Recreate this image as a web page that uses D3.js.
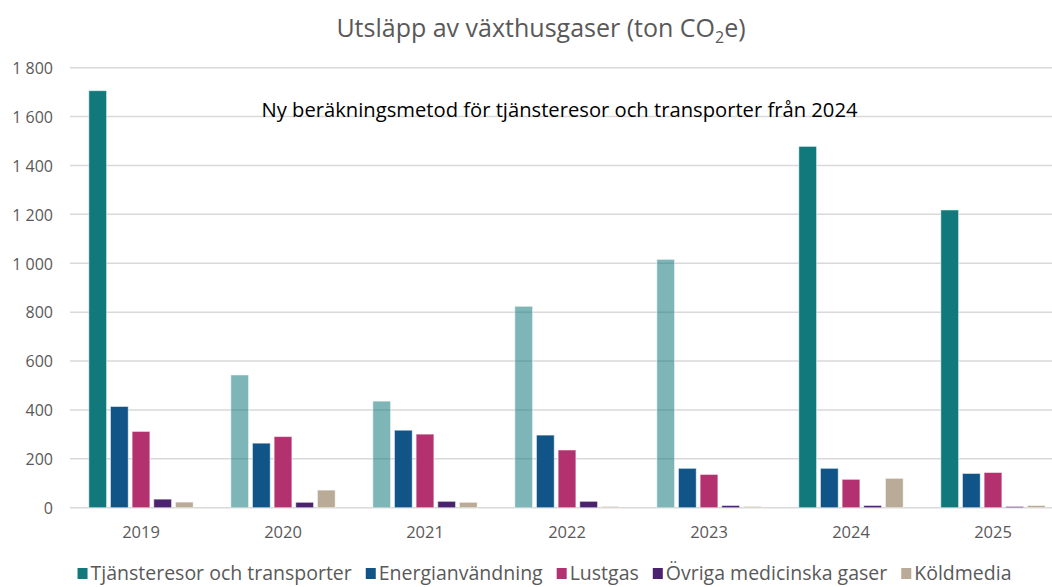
<!DOCTYPE html>
<html>
<head>
<meta charset="utf-8">
<script src="https://cdn.jsdelivr.net/npm/d3@7"></script>
<style>
  html, body { margin: 0; padding: 0; background: #fff; }
  svg { display: block; }
  text { font-family: "Open Sans", "Noto Sans", sans-serif; }
</style>
</head>
<body>
<svg id="chart" width="1052" height="587"></svg>
<script>
// ---- data ----
const years = ["2019", "2020", "2021", "2022", "2023", "2024", "2025"];
const seriesNames = ["Tjänsteresor och transporter", "Energianvändning", "Lustgas", "Övriga medicinska gaser", "Köldmedia"];
const tjanster = [1706, 543, 436, 824, 1016, 1478, 1218];
const energi   = [414, 264, 317, 297, 161, 161, 140];
const lustgas  = [312, 291, 301, 236, 136, 116, 144];
const ovriga   = [35, 22, 26, 26, 9, 9, 5];
const koldmedia = [23, 72, 22, 5, 5, 120, 9];
const yTicks = [0, 200, 400, 600, 800, 1000, 1200, 1400, 1600, 1800];
const oldMethodYears = ["2020", "2021", "2022", "2023"];
const titleMain = "Utsläpp av växthusgaser (ton CO";
const titleSub = "2";
const titleEnd = "e)";
const noteText = "Ny beräkningsmetod för tjänsteresor och transporter från 2024";

// ---- styles ----
const colors = ["#11797C", "#105488", "#B2316E", "#4A226E", "#B9AB97"];
const seriesValues = [tjanster, energi, lustgas, ovriga, koldmedia];

const svg = d3.select("#chart");
const margin = { left: 70, right: -12, top: 67.7, bottom: 79.3 };
const W = 1052, H = 587;
const plotL = margin.left, plotR = W - margin.right, plotT = margin.top, plotB = H - margin.bottom;

const y = d3.scaleLinear().domain([0, 1800]).range([plotB, plotT]);
const x0 = d3.scaleBand().domain(years).range([plotL, plotR]).paddingInner(0.265).paddingOuter(0.1325);
const x1 = d3.scaleBand().domain(seriesNames).range([0, x0.bandwidth()]).paddingInner(0.18).paddingOuter(0);

// gridlines
svg.append("g")
  .selectAll("line").data(yTicks).join("line")
  .attr("x1", plotL).attr("x2", plotR)
  .attr("y1", d => y(d)).attr("y2", d => y(d))
  .attr("stroke", "#D9D9D9").attr("stroke-width", 1.5);

// y axis labels
const yAxis = d3.axisLeft(y).tickValues(yTicks).tickSize(0).tickPadding(0)
  .tickFormat(d => d3.format(",")(d).replace(/,/g, " "));
const yg = svg.append("g").attr("transform", `translate(${plotL - 17},0)`).call(yAxis);
yg.select(".domain").remove();
yg.selectAll("text").attr("fill", "#595959").attr("font-size", 16)
  .attr("font-family", "'Open Sans', sans-serif").attr("dy", "0.36em");

// x axis labels
const xAxis = d3.axisBottom(x0).tickSize(0).tickPadding(0);
const xg = svg.append("g").attr("transform", `translate(0,${plotB + 19})`).call(xAxis);
xg.select(".domain").remove();
xg.selectAll("text").attr("fill", "#595959").attr("font-size", 16.5)
  .attr("font-family", "'Open Sans', sans-serif").attr("dy", "0.71em");

// bars
const groups = svg.append("g").selectAll("g").data(years).join("g")
  .attr("transform", d => `translate(${x0(d)},0)`);
groups.selectAll("rect")
  .data((yr, i) => seriesNames.map((s, k) => ({ yr, s, k, v: seriesValues[k][i] })))
  .join("rect")
  .attr("x", d => x1(d.s))
  .attr("width", x1.bandwidth())
  .attr("y", d => y(d.v))
  .attr("height", d => y(0) - y(d.v))
  .attr("fill", d => colors[d.k])
  .attr("fill-opacity", d => (d.k === 0 && oldMethodYears.includes(d.yr)) ? 0.54 : 1)
  .attr("stroke", "#ffffff").attr("stroke-opacity", 0.5).attr("stroke-width", 1);

// title
const title = svg.append("text").attr("x", 541).attr("y", 37)
  .attr("text-anchor", "middle").attr("fill", "#595959").attr("font-size", 25);
title.append("tspan").text(titleMain);
title.append("tspan").text(titleSub).attr("font-size", 16).attr("dy", 6);
title.append("tspan").text(titleEnd).attr("dy", -6);

// annotation
svg.append("text").attr("x", 559.5).attr("y", 117)
  .attr("text-anchor", "middle").attr("fill", "#000").attr("font-size", 20.2)
  .text(noteText);

// legend
const legend = svg.append("g");
let lx = 0;
seriesNames.forEach((s, k) => {
  const g = legend.append("g").attr("transform", `translate(${lx},0)`);
  g.append("rect").attr("x", 0).attr("y", -12).attr("width", 10).attr("height", 11).attr("fill", colors[k]);
  const t = g.append("text").attr("x", 13).attr("y", 0).attr("fill", "#595959")
    .attr("font-size", 19.5).text(s);
  lx += 13 + t.node().getComputedTextLength() + 14;
});
const legendW = lx - 14;
legend.attr("transform", `translate(${544.5 - legendW / 2},580)`);
</script>
</body>
</html>
